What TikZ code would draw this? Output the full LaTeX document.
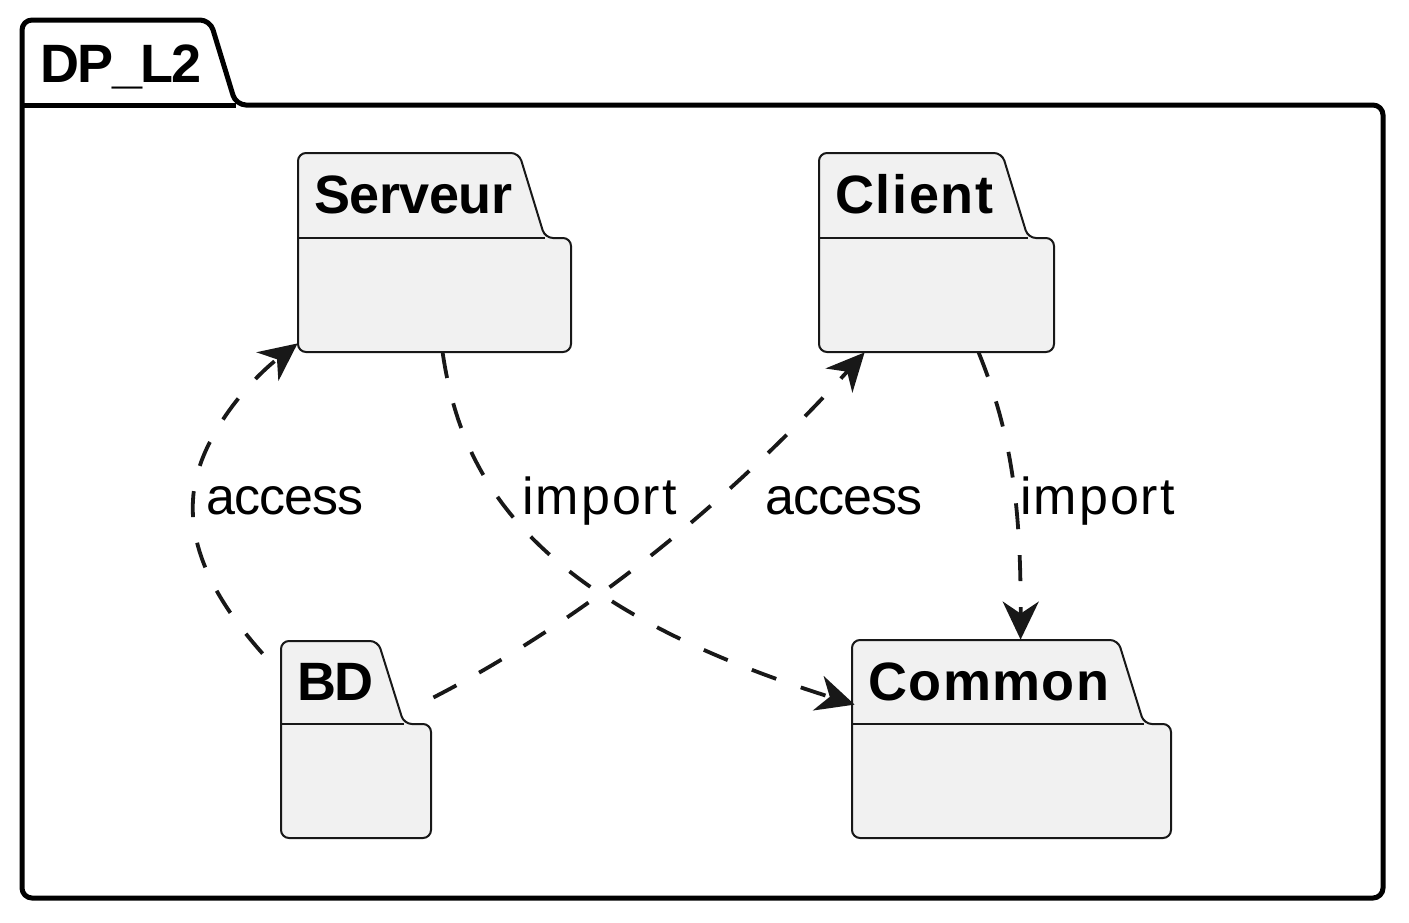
\documentclass[tikz,border=0pt]{standalone}
\usepackage{fontspec}
\setmainfont{Liberation Sans}
\usetikzlibrary{arrows.meta,fit}
\definecolor{pkgfill}{HTML}{F1F1F1}
\definecolor{edgecol}{HTML}{181818}

\newcommand\pkgshape[7]{% L, T, tabR, tabS, TB, R, B
  \draw[pkgline] (#1,#5) -- (#1,#2) -- (#3,#2) -- (#4,#5) -- (#6,#5) -- (#6,#7) -- (#1,#7) -- cycle;
  \draw[draw=edgecol, line width=1pt] (#1,#5) -- (#4,#5);
}

\begin{document}
\begin{tikzpicture}[x=0.5pt,y=-0.5pt,
  pkgline/.style={draw=edgecol, line width=1pt, fill=pkgfill, rounded corners=4pt},
  outerline/.style={draw=black, line width=2.5pt, rounded corners=5pt},
  pkgtitle/.style={font=\fontsize{27pt}{30pt}\selectfont\bfseries, anchor=base west, inner sep=0},
  rel/.style={draw=edgecol, line width=1.9pt, dash pattern=on 13pt off 13pt, -{Stealth[length=19pt,width=18pt,inset=6pt]}},
  rellabel/.style={font=\fontsize{26pt}{30pt}\selectfont, anchor=base west, inner sep=0},
  area/.style={inner sep=0, draw=none}
]
\useasboundingbox (0,0) rectangle (1409,922);

% outer package
\draw[outerline] (22,105) -- (22,20) -- (210,20) -- (236,105) -- (1383,105) -- (1383,898) -- (22,898) -- cycle;
\draw[draw=black, line width=2.5pt] (22,105) -- (236,105);
\node[area, fit={(22,20) (1383,898)}] (dpl2) {};
\node[pkgtitle] (dpl2title) at (40,82) {\addfontfeature{LetterSpace=-3}DP\_L2};

% inner packages
\pkgshape{298}{153}{519}{545}{238}{571}{352}
\node[area, fit={(298,153) (571,352)}] (serveur) {};
\node[pkgtitle] (serveurtitle) at (314,213) {\addfontfeature{LetterSpace=-1}Serveur};

\pkgshape{819}{153}{1002}{1028}{238}{1054}{352}
\node[area, fit={(819,153) (1054,352)}] (client) {};
\node[pkgtitle] (clienttitle) at (835,213) {\addfontfeature{LetterSpace=3}Client};

\pkgshape{281}{641}{378}{404}{724}{431}{838}
\node[area, fit={(281,641) (431,838)}] (bd) {};
\node[pkgtitle] (bdtitle) at (297,700) {\addfontfeature{LetterSpace=-3}BD};

\pkgshape{852}{640}{1118}{1144}{724}{1171}{838}
\node[area, fit={(852,640) (1171,838)}] (common) {};
\node[pkgtitle] (commontitle) at (868,700) {\addfontfeature{LetterSpace=2.5}Common};

% connectors
\draw[rel] ([xshift=-9pt,yshift=-6.5pt]bd.north west)
  .. controls (215,600) and (190,550) .. (193,500)
  .. controls (196,440) and (250,380) .. ([yshift=4.5pt]serveur.south west);
\draw[rel] ([xshift=1pt,yshift=21pt]bd.east)
  .. controls (582,621) and (726,505) .. ([xshift=23pt]client.south west);
\draw[rel] ([xshift=72.5pt]serveur.south west)
  .. controls (460,470) and (520,600) .. ([xshift=1.5pt,yshift=-32.5pt]common.north west);
\draw[rel] ([xshift=80pt]client.south west)
  .. controls (1010,430) and (1021,500) .. ([xshift=84.5pt]common.north west);

% labels
\node[rellabel] (lblaccess1) at (206,514) {\addfontfeature{LetterSpace=-1.9}access};
\node[rellabel] (lblimport1) at (522,514) {\addfontfeature{LetterSpace=3.8}import};
\node[rellabel] (lblaccess2) at (765,514) {\addfontfeature{LetterSpace=-1.9}access};
\node[rellabel] (lblimport2) at (1020,514) {\addfontfeature{LetterSpace=3.8}import};
\end{tikzpicture}
\end{document}
